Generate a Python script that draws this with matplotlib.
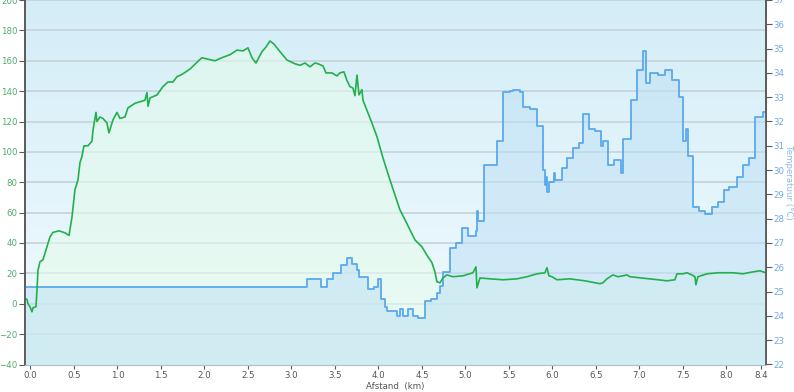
import matplotlib
matplotlib.use("Agg")
import matplotlib.pyplot as plt
import numpy as np

# elevation profile (left axis, m)
elev_km = [-0.063, -0.041, -0.029, -0.006, 0.017, 0.029, 0.063, 0.075, 0.086, 0.109, 0.144,
           0.19, 0.224, 0.259, 0.328, 0.397, 0.443, 0.477, 0.511, 0.546, 0.569, 0.592, 0.615,
           0.661, 0.707, 0.718, 0.753, 0.764, 0.799, 0.833, 0.879, 0.902, 0.948, 0.994, 1.029,
           1.086, 1.121, 1.201, 1.259, 1.316, 1.339, 1.351, 1.374, 1.454, 1.523, 1.580, 1.638,
           1.684, 1.741, 1.833, 1.914, 1.971, 2.040, 2.121, 2.201, 2.293, 2.374, 2.443, 2.5,
           2.546, 2.592, 2.661, 2.707, 2.753, 2.799, 2.868, 2.948, 3.040, 3.098, 3.155, 3.213,
           3.270, 3.305, 3.362, 3.397, 3.466, 3.523, 3.557, 3.603, 3.638, 3.672, 3.707, 3.730,
           3.753, 3.776, 3.810, 3.822, 3.879, 3.925, 3.983, 4.017, 4.052, 4.132, 4.190, 4.247,
           4.305, 4.362, 4.420, 4.5, 4.557, 4.615, 4.649, 4.672, 4.707, 4.741, 4.787, 4.856,
           4.971, 5.086, 5.121, 5.132, 5.167, 5.282, 5.431, 5.592, 5.707, 5.822, 5.914, 5.937,
           5.960, 5.994, 6.052, 6.201, 6.374, 6.546, 6.580, 6.626, 6.695, 6.753, 6.810, 6.856,
           6.891, 7.006, 7.121, 7.213, 7.316, 7.408, 7.431, 7.500, 7.546, 7.603, 7.638, 7.649,
           7.672, 7.776, 7.902, 8.075, 8.190, 8.305, 8.385, 8.454]
elev_m = [3.3, 3.0, 0, -2, -5.3, -2.6, -2, 9.2, 22, 27.6, 29,
          37.5, 44, 47, 48, 46.7, 45, 57, 75, 81.6, 93, 97, 104,
          104, 107, 114, 126, 120, 123, 122, 119, 112.5, 121, 126, 122,
          123, 129, 132, 133, 134, 139, 130, 135.5, 137.5, 143, 146, 146,
          149.5, 151, 154.5, 159, 162, 161, 160, 162, 164, 167, 166.5, 168.5,
          162, 158.5, 166, 169, 173, 171, 166, 160.5, 158, 157, 158.5, 156,
          158.5, 158, 156.6, 152, 152, 150, 152, 152.7, 147, 143, 142, 137,
          150.6, 137.5, 141, 134, 125.6, 119, 110, 103, 96, 81.6, 71.7, 61.8,
          55.3, 48.7, 42, 37.5, 32, 27, 21, 14.5, 13.8, 17, 19, 17.8,
          18.4, 20.4, 24.3, 10.5, 17, 16.4, 15.8, 16.4, 17.8, 19.7, 20.4, 23.7,
          18.4, 17.8, 15.8, 16.4, 15.1, 13.2, 13.8, 16.4, 19, 17.8, 18.4, 19,
          17.8, 17.1, 16.4, 15.8, 15.1, 15.8, 19.7, 19.7, 20.4, 19, 17.8, 12.5,
          17.8, 19.7, 20.4, 20.4, 19.7, 21, 21.7, 20.4]

# temperature (right axis, degC), step values starting at each km
temp_km = [-0.063, 3.178, 3.339, 3.408, 3.477, 3.569, 3.638, 3.695, 3.753, 3.776, 3.879,
           3.948, 3.994, 4.029, 4.075, 4.098, 4.213, 4.247, 4.282, 4.339, 4.397, 4.454,
           4.534, 4.603, 4.672, 4.707, 4.741, 4.822, 4.891, 4.960, 5.029, 5.121, 5.132,
           5.144, 5.213, 5.362, 5.431, 5.511, 5.546, 5.626, 5.661, 5.741, 5.822, 5.891,
           5.914, 5.925, 5.937, 5.960, 6.017, 6.029, 6.109, 6.167, 6.236, 6.305, 6.351,
           6.420, 6.489, 6.557, 6.580, 6.638, 6.707, 6.787, 6.810, 6.902, 6.971, 7.040,
           7.075, 7.121, 7.213, 7.293, 7.374, 7.454, 7.500, 7.534, 7.557, 7.615, 7.684,
           7.753, 7.833, 7.902, 7.971, 8.029, 8.121, 8.190, 8.259, 8.328, 8.420, 8.454]
temp_c = [25.2, 25.5, 25.2, 25.5, 25.75, 26.1, 26.4, 26.15, 25.9, 25.6, 25.1,
          25.2, 25.5, 24.7, 24.35, 24.2, 24.0, 24.3, 24.0, 24.3, 24.0, 23.9,
          24.6, 24.7, 24.95, 25.25, 25.8, 26.8, 27.0, 27.6, 27.3, 27.5, 28.3,
          27.9, 30.2, 31.2, 33.2, 33.25, 33.3, 33.2, 32.6, 32.5, 31.8, 30.0,
          29.4, 29.7, 29.1, 29.5, 29.9, 29.6, 30.1, 30.5, 30.9, 31.1, 32.3,
          31.7, 31.6, 31.0, 31.2, 30.2, 30.4, 29.9, 31.3, 32.9, 34.1, 34.9,
          33.6, 34.0, 33.9, 34.1, 33.7, 33.0, 31.2, 31.7, 30.6, 28.5, 28.3,
          28.2, 28.5, 28.7, 29.2, 29.3, 29.7, 30.2, 30.5, 32.2, 32.4, 32.4]

x_ticks = [0.0, 0.5, 1.0, 1.5, 2.0, 2.5, 3.0, 3.5, 4.0, 4.5, 5.0, 5.5, 6.0, 6.5, 7.0, 7.5, 8.0, 8.4]
elev_ticks = list(range(-40, 201, 20))
temp_ticks = list(range(22, 38))

green = '#22b04c'
blue = '#5aa9ee'
xmin, xmax = -0.063, 8.455

fig = plt.figure(figsize=(7.94, 3.92), dpi=100)
ax = fig.add_axes([25 / 794, 1 - 364.5 / 392, 741 / 794, 364.5 / 392])
ax2 = ax.twinx()

# background gradient
grad = np.linspace(0, 1, 256).reshape(-1, 1)
bg = np.zeros((256, 1, 3))
top_c = np.array([0.83, 0.93, 0.97])
bot_c = np.array([0.95, 0.985, 1.0])
bg[:, 0, :] = top_c * (1 - grad) + bot_c * grad
ax.imshow(bg, extent=[xmin, xmax, -40, 200], aspect='auto', zorder=0, origin='upper')

ax.fill_between(elev_km, elev_m, -40, color='#e4fbeb', alpha=0.6, lw=0, zorder=1)
ax.set_xlim(xmin, xmax)
ax.set_ylim(-40, 200)
ax.set_yticks(elev_ticks)
ax.set_xticks(x_ticks)
ax.set_xticklabels(['%.1f' % t for t in x_ticks])
ax.grid(axis='y', color='#c3d0d6', lw=1.1)
ax.set_axisbelow(True)

ax2.fill_between(temp_km, temp_c, 22, step='post', color='#bfe0f5', alpha=0.55, lw=0)
ax2.plot(temp_km, temp_c, drawstyle='steps-post', color=blue, lw=1.3)
ax2.plot(elev_km, elev_m, color=green, lw=1.2, transform=ax.transData)
ax2.set_ylim(22, 37)
ax2.set_yticks(temp_ticks)
ax2.set_xlim(xmin, xmax)

for a in (ax, ax2):
    a.spines['top'].set_visible(False)
    a.spines['left'].set_color('#5a5a5a')
    a.spines['right'].set_color('#5a5a5a')
    a.spines['bottom'].set_color('#a8c3d2')
    a.spines['left'].set_linewidth(1.2)
    a.spines['right'].set_linewidth(1.2)

ax.tick_params(axis='y', colors='#5a5a5a', labelcolor='#4fae6c', labelsize=6.2, length=4, pad=1.5)
ax2.tick_params(axis='y', colors='#5a5a5a', labelcolor='#6ea9e6', labelsize=6.2, length=4, pad=1.5)
ax.tick_params(axis='x', colors='#5a5a5a', labelcolor='#555555', labelsize=6.2, length=3, pad=2)

ax.set_xlabel('Afstand  (km)', fontsize=6.2, color='#555555', labelpad=1)
ax2.set_ylabel('Temperatuur (°C)', fontsize=6.2, color='#8dbbe8', rotation=-90, labelpad=6)

fig.savefig('out.png', dpi=100)
